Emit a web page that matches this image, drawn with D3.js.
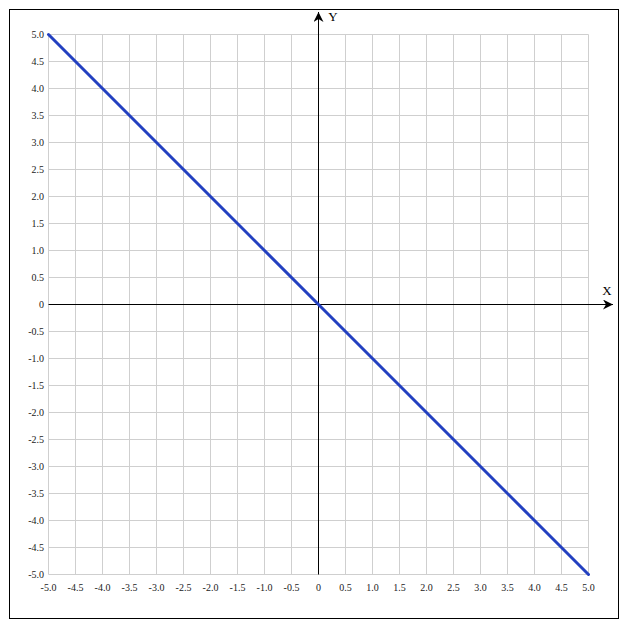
<!DOCTYPE html>
<html>
    <head>
        <meta charset="UTF-8" />
        <title>y = -x</title>
        <style>
            body { margin: 0; background: #fff; }
        </style>
    </head>
    <body>
        <script src="https://d3js.org/d3.v7.min.js"></script>
        <script type="text/javascript">
            // line data
            var xValues = [-5, -4, -3, -2, -1, 0, 1, 2, 3, 4, 5];
            var yValues = [5, 4, 3, 2, 1, 0, -1, -2, -3, -4, -5];

            // grid / tick positions and labels
            var ticks = [-5, -4.5, -4, -3.5, -3, -2.5, -2, -1.5, -1, -0.5, 0,
                0.5, 1, 1.5, 2, 2.5, 3, 3.5, 4, 4.5, 5];
            var tickLabels = ["-5.0", "-4.5", "-4.0", "-3.5", "-3.0", "-2.5", "-2.0",
                "-1.5", "-1.0", "-0.5", "0", "0.5", "1.0", "1.5", "2.0", "2.5",
                "3.0", "3.5", "4.0", "4.5", "5.0"];

            var svg = d3
                .select("body")
                .append("svg")
                .attr("width", 627)
                .attr("height", 630);

            // outer frame
            svg.append("rect")
                .attr("x", 9.5)
                .attr("y", 9.5)
                .attr("width", 609)
                .attr("height", 609)
                .attr("fill", "none")
                .attr("stroke", "#000")
                .attr("stroke-width", 1);

            var x = d3.scaleLinear().domain([-5, 5]).range([48.5, 588.5]);
            var y = d3.scaleLinear().domain([-5, 5]).range([574.5, 34.5]);

            var font = "'Liberation Serif', 'Times New Roman', serif";

            // grid
            var grid = svg.append("g").attr("stroke", "#cfcfcf").attr("stroke-width", 1);
            grid.selectAll("line.v")
                .data(ticks)
                .join("line")
                .attr("class", "v")
                .attr("x1", function(d) { return x(d); })
                .attr("x2", function(d) { return x(d); })
                .attr("y1", y(-5))
                .attr("y2", y(5));
            grid.selectAll("line.h")
                .data(ticks)
                .join("line")
                .attr("class", "h")
                .attr("y1", function(d) { return y(d); })
                .attr("y2", function(d) { return y(d); })
                .attr("x1", x(-5))
                .attr("x2", x(5));

            // arrow marker
            svg.append("defs")
                .append("marker")
                .attr("id", "arrow")
                .attr("viewBox", "0 0 10 10")
                .attr("refX", 10)
                .attr("refY", 5)
                .attr("markerWidth", 10)
                .attr("markerHeight", 10)
                .attr("markerUnits", "userSpaceOnUse")
                .attr("orient", "auto")
                .append("path")
                .attr("d", "M0,0L10,5L0,10L3,5z")
                .attr("fill", "#000");

            // axes
            svg.append("line")
                .attr("x1", x(-5))
                .attr("x2", 613)
                .attr("y1", y(0))
                .attr("y2", y(0))
                .attr("stroke", "#000")
                .attr("stroke-width", 1)
                .attr("marker-end", "url(#arrow)");
            svg.append("line")
                .attr("x1", x(0))
                .attr("x2", x(0))
                .attr("y1", y(-5))
                .attr("y2", 12)
                .attr("stroke", "#000")
                .attr("stroke-width", 1)
                .attr("marker-end", "url(#arrow)");

            svg.append("text")
                .attr("x", 607)
                .attr("y", 295)
                .attr("text-anchor", "middle")
                .style("font", "13px " + font)
                .text("X");
            svg.append("text")
                .attr("x", 333)
                .attr("y", 21)
                .attr("text-anchor", "middle")
                .style("font", "13px " + font)
                .text("Y");

            // tick labels
            svg.append("g")
                .selectAll("text")
                .data(ticks)
                .join("text")
                .attr("x", 44)
                .attr("y", function(d) { return y(d); })
                .attr("dy", "0.35em")
                .attr("text-anchor", "end")
                .attr("fill", "#222")
                .style("font", "10px " + font)
                .text(function(d, i) { return tickLabels[i]; });
            svg.append("g")
                .selectAll("text")
                .data(ticks)
                .join("text")
                .attr("x", function(d) { return x(d); })
                .attr("y", 591)
                .attr("text-anchor", "middle")
                .attr("fill", "#222")
                .style("font", "10px " + font)
                .text(function(d, i) { return tickLabels[i]; });

            // the line
            var line = d3.line()
                .x(function(d) { return x(d[0]); })
                .y(function(d) { return y(d[1]); });
            svg.append("path")
                .datum(d3.zip(xValues, yValues))
                .attr("d", line)
                .attr("fill", "none")
                .attr("stroke", "#2340c0")
                .attr("stroke-width", 3)
                .attr("stroke-linecap", "round");
        </script>
    </body>
</html>
